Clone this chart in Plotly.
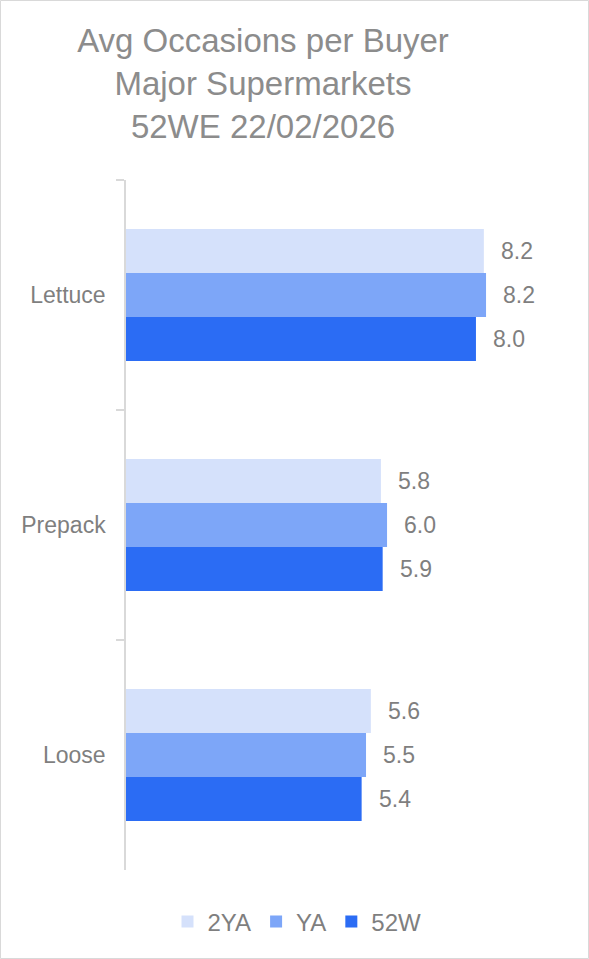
import plotly.graph_objects as go

categories = ["Lettuce", "Prepack", "Loose"]
series_names = ["2YA", "YA", "52W"]
values_2ya = [8.17, 5.82, 5.59]
values_ya = [8.22, 5.96, 5.48]
values_52w = [7.99, 5.86, 5.38]
colors = ["#D5E1FB", "#7DA6F8", "#2B6CF4"]

series_values = [values_2ya, values_ya, values_52w]

W, H = 589, 959
ml, mr, mt, mb = 126, 25, 180, 89
pw, ph = W - ml - mr, H - mt - mb
FONT = "Liberation Sans, Arial"

fig = go.Figure()
for name, vals, col in zip(series_names, series_values, colors):
    fig.add_trace(go.Bar(
        y=categories, x=vals, name=name, orientation="h",
        marker=dict(color=col, line=dict(width=0)),
        offsetgroup=name,
    ))

# data labels
annotations = []
for i, vals in enumerate(series_values):
    for j, v in enumerate(vals):
        annotations.append(dict(
            x=v, y=categories[j], xref="x", yref="y",
            text=f"{v:.1f}", showarrow=False, xanchor="left", xshift=15,
            yshift=(1 - i) * 44,
            font=dict(family=FONT, size=23, color="#7F7F7F"),
        ))

fig.update_layout(
    width=W, height=H,
    margin=dict(l=ml, r=mr, t=mt, b=mb),
    paper_bgcolor="white", plot_bgcolor="white",
    barmode="group", bargap=0.426, bargroupgap=0,
    title=dict(
        text="Avg Occasions per Buyer<br>Major Supermarkets<br>52WE 22/02/2026",
        x=263 / W, xref="container", xanchor="center",
        y=1 - 52 / H, yref="container", yanchor="top",
        font=dict(family=FONT, size=33, color="#8C8C8C"),
    ),
    xaxis=dict(range=[0, 10], visible=False, showgrid=False, zeroline=False),
    yaxis=dict(
        autorange="reversed", showline=True, linecolor="#D9D9D9", linewidth=1.5,
        ticks="outside", ticklen=8, tickcolor="#D9D9D9", tickwidth=1.5,
        tickson="boundaries", ticklabelstandoff=14, showgrid=False,
        tickfont=dict(family=FONT, size=23, color="#7F7F7F"),
    ),
    legend=dict(
        orientation="h", x=297 / W, xref="container", xanchor="center",
        y=1 - 922 / H, yref="container", yanchor="middle",
        font=dict(family=FONT, size=24, color="#7F7F7F"),
        itemwidth=30, tracegroupgap=0,
    ),
    annotations=annotations,
    shapes=[dict(
        type="rect", xref="paper", yref="paper",
        x0=-(ml - 0.5) / pw, x1=(W - ml - 0.5) / pw,
        y0=-(mb - 0.5) / ph, y1=(H - mb - 0.5) / ph,
        line=dict(color="#D9D9D9", width=1), fillcolor="rgba(0,0,0,0)", layer="below",
    )],
)

fig.write_html("out.html")
